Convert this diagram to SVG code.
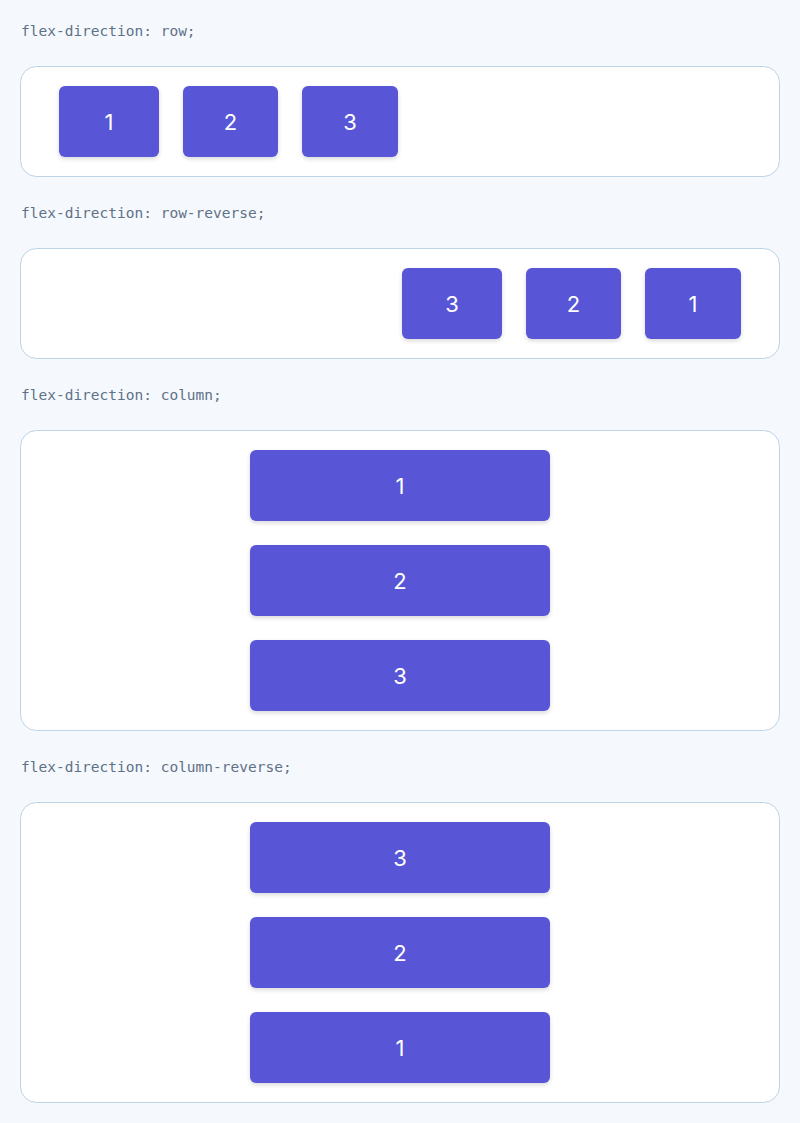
<svg xmlns="http://www.w3.org/2000/svg" width="800" height="1123" viewBox="0 0 800 1123">
<defs>
<filter id="sh" x="-20%" y="-20%" width="140%" height="160%">
<feDropShadow dx="0" dy="2" stdDeviation="2" flood-color="#000" flood-opacity="0.15"/>
</filter>
<style>
.lbl{font-family:"DejaVu Sans Mono","Liberation Mono",monospace;font-size:14.5px;fill:#5f7186}
.box{fill:#ffffff;stroke:#bcd4e6;stroke-width:1}
.item{fill:#5856d6;filter:url(#sh)}
.num{font-family:Inter,"Liberation Sans",sans-serif;font-size:22px;fill:#ffffff;text-anchor:middle;dominant-baseline:central}
</style>
</defs>
<rect width="800" height="1123" fill="#f5f9fe"/>

<g id="row">
<text class="lbl" x="21" y="36">flex-direction: row;</text>
<rect class="box" x="20.5" y="66.5" width="759" height="110" rx="16"/>
<g id="row-1"><rect class="item" x="59" y="86" width="100" height="71" rx="6"/><text class="num" x="109" y="121.5">1</text></g>
<g id="row-2"><rect class="item" x="183" y="86" width="95" height="71" rx="6"/><text class="num" x="230.5" y="121.5">2</text></g>
<g id="row-3"><rect class="item" x="302" y="86" width="96" height="71" rx="6"/><text class="num" x="350" y="121.5">3</text></g>
</g>

<g id="row-reverse">
<text class="lbl" x="21" y="218">flex-direction: row-reverse;</text>
<rect class="box" x="20.5" y="248.5" width="759" height="110" rx="16"/>
<g id="rr-3"><rect class="item" x="402" y="268" width="100" height="71" rx="6"/><text class="num" x="452" y="303.5">3</text></g>
<g id="rr-2"><rect class="item" x="526" y="268" width="95" height="71" rx="6"/><text class="num" x="573.5" y="303.5">2</text></g>
<g id="rr-1"><rect class="item" x="645" y="268" width="96" height="71" rx="6"/><text class="num" x="693" y="303.5">1</text></g>
</g>

<g id="column">
<text class="lbl" x="21" y="400">flex-direction: column;</text>
<rect class="box" x="20.5" y="430.5" width="759" height="300" rx="16"/>
<g id="col-1"><rect class="item" x="250" y="450" width="300" height="71" rx="6"/><text class="num" x="400" y="485.5">1</text></g>
<g id="col-2"><rect class="item" x="250" y="545" width="300" height="71" rx="6"/><text class="num" x="400" y="580.5">2</text></g>
<g id="col-3"><rect class="item" x="250" y="640" width="300" height="71" rx="6"/><text class="num" x="400" y="675.5">3</text></g>
</g>

<g id="column-reverse">
<text class="lbl" x="21" y="772">flex-direction: column-reverse;</text>
<rect class="box" x="20.5" y="802.5" width="759" height="300" rx="16"/>
<g id="cr-3"><rect class="item" x="250" y="822" width="300" height="71" rx="6"/><text class="num" x="400" y="857.5">3</text></g>
<g id="cr-2"><rect class="item" x="250" y="917" width="300" height="71" rx="6"/><text class="num" x="400" y="952.5">2</text></g>
<g id="cr-1"><rect class="item" x="250" y="1012" width="300" height="71" rx="6"/><text class="num" x="400" y="1047.5">1</text></g>
</g>

<g id="connectors"/>
</svg>
